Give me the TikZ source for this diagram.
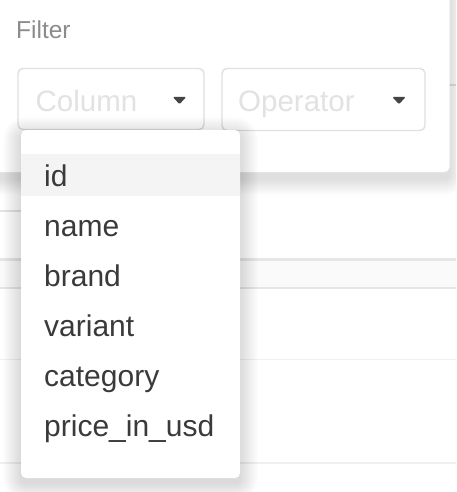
\documentclass[tikz,border=0pt]{standalone}
\usepackage{fontspec}
\setmainfont{Liberation Sans}
\definecolor{itemtxt}{HTML}{3A3A3A}
\definecolor{filtertxt}{HTML}{8C8C8C}
\definecolor{placeholder}{HTML}{E2E2E2}
\definecolor{boxborder}{HTML}{E0E0E0}
\definecolor{arrowc}{HTML}{444444}
\definecolor{hl}{HTML}{F4F4F4}
\definecolor{rowline}{HTML}{E4E4E4}
\definecolor{rowthick}{HTML}{E6E6E6}
\definecolor{rowlight}{HTML}{EFEFEF}
\definecolor{band}{HTML}{FAFAFA}
\tikzset{
  itemtext/.style={anchor=base west, inner sep=0pt, text=itemtxt, font=\fontsize{30}{30}\selectfont},
  phtext/.style={anchor=base west, inner sep=0pt, text=placeholder, font=\fontsize{29.5}{29.5}\selectfont},
  selbox/.style={draw=boxborder, line width=1.4pt, rounded corners=5pt},
  caret/.style={fill=arrowc, rounded corners=1.2pt},
  card/.style={fill=white, rounded corners=5pt},
  shadowlayer/.style={fill=black, opacity=#1},
}
\begin{document}
\begin{tikzpicture}[x=1pt,y=-1pt]
\useasboundingbox (0,0) rectangle (456,492);
\clip (0,0) rectangle (456,492);
\fill[white] (0,0) rectangle (456,492);
% background table lines
\fill[rowline] (0,84.5) rectangle (456,85.7);
\fill[rowline] (0,210.2) rectangle (40,211.5);
\fill[band] (0,258) rectangle (456,288);
\fill[rowthick] (0,258) rectangle (456,260.5);
\fill[rowthick] (0,286.5) rectangle (456,289);
\fill[rowlight] (0,358.5) rectangle (456,360);
\fill[rowlight] (0,462) rectangle (456,463.5);
% filter panel shadow
\foreach \i in {1,...,16}{
  \pgfmathsetmacro\rr{5+\i}
  \fill[shadowlayer=0.007, rounded corners=\rr pt] (-20-\i,-20-\i+7) rectangle (449.5+\i,172+\i+7);
}
\fill[card] (-20,-20) rectangle (449.5,172);
\node[anchor=base west, inner sep=0pt, text=filtertxt, font=\fontsize{24.5}{24.5}\selectfont] (filter) at (16,38.5) {Filter};
% select boxes
\draw[selbox] (18,68.5) rectangle (204,129.5);
\draw[selbox] (222,68.5) rectangle (425,130.5);
\node[phtext] (column) at (35.5,111) {Column};
\node[phtext] (operator) at (238,111) {Operator};
\fill[caret] (172.8,97) -- (186.2,97) -- (179.5,104.2) -- cycle;
\fill[caret] (392.3,97) -- (405.7,97) -- (399,104.2) -- cycle;
% dropdown shadow
\foreach \i in {1,...,18}{
  \pgfmathsetmacro\rr{5+\i}
  \fill[shadowlayer=0.006, rounded corners=\rr pt] (21-\i,130-\i+5) rectangle (240+\i,478+\i+5);
}
\fill[card] (21,130) rectangle (240,478);
\fill[hl] (21,154) rectangle (239.5,195.5);
\node[itemtext] (id) at (44,186) {id};
\node[itemtext] (name) at (44,236.5) {name};
\node[itemtext] (brand) at (44,286.5) {brand};
\node[itemtext] (variant) at (44,336.5) {variant};
\node[itemtext] (category) at (44,386.5) {category};
\node[itemtext] (price) at (44,436) {price\_in\_usd};
\end{tikzpicture}
\end{document}
